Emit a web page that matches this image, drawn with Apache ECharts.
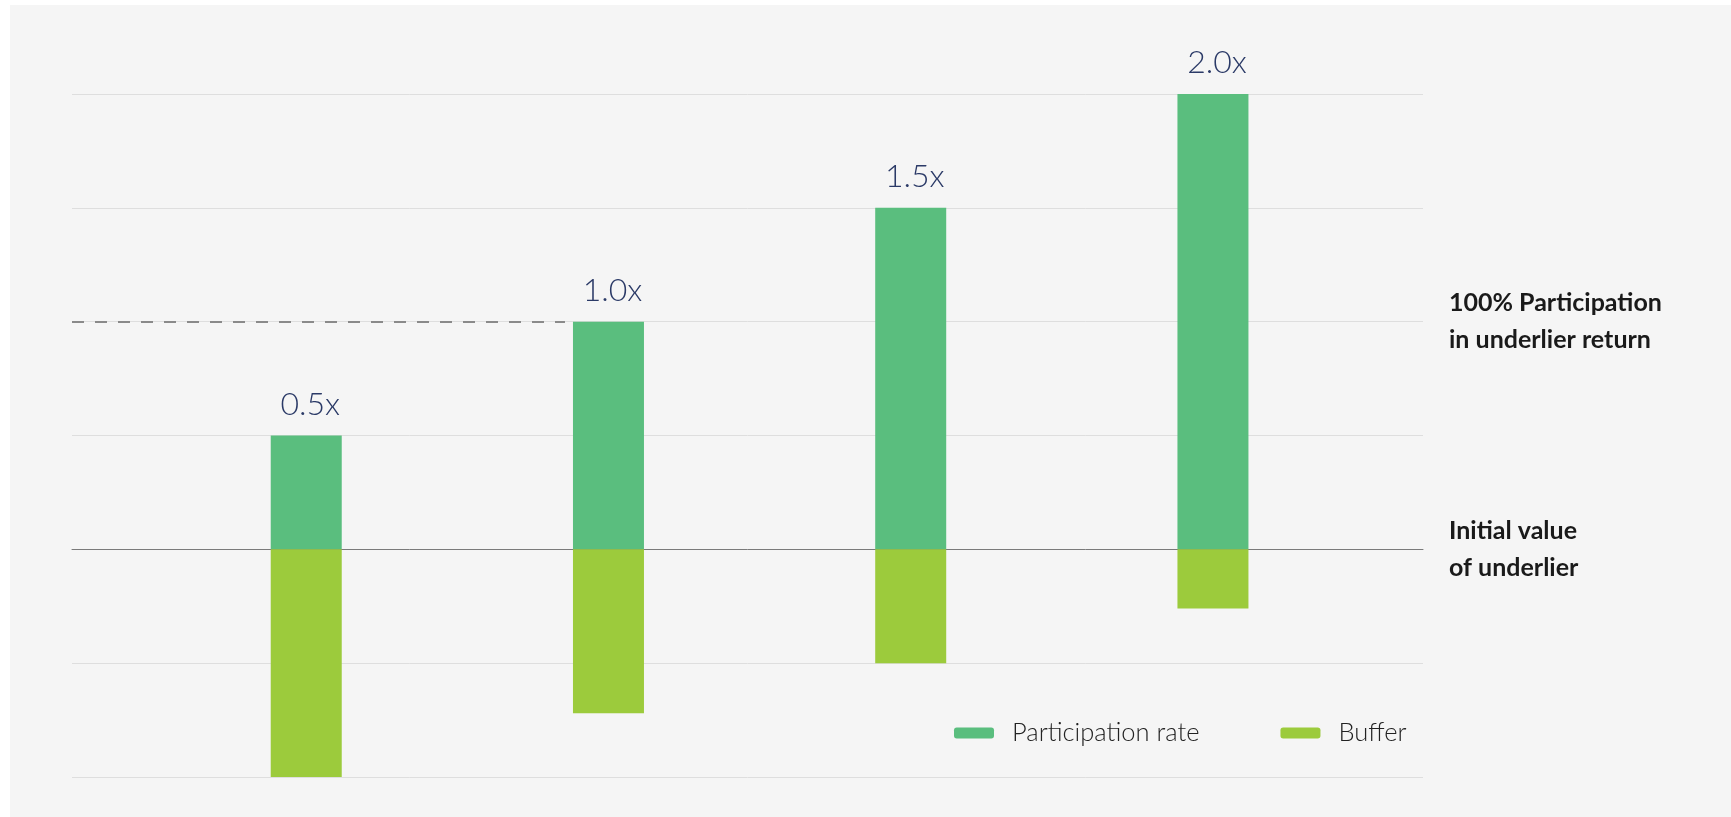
<!DOCTYPE html>
<html>
<head>
<meta charset="utf-8">
<script src="https://cdn.jsdelivr.net/npm/echarts@6/dist/echarts.min.js"></script>
<style>
html,body{margin:0;padding:0;background:#ffffff;}
#chart{width:1731px;height:817px;}
</style>
</head>
<body>
<div id="chart"></div>
<script>
// ---- data ----
const categories = ['0.5x', '1.0x', '1.5x', '2.0x'];
const participation = [50, 100, 150, 200];
const buffer = [-100, -72, -50, -26];
const barLabels = ['0.5x', '1.0x', '1.5x', '2.0x'];
const seriesNames = ['Participation rate', 'Buffer'];
const rightLabels = { '100': '100% Participation\nin underlier return', '0': 'Initial value\nof underlier' };
const referenceLevel = 100;

// ---- layout ----
const X_MIN = -0.775, X_MAX = 3.695;
const BAR_W = 71;
const gridLeft = 72, gridRight = 308, gridTop = 94, gridBottom = 40;
const pxPerUnit = (1731 - gridLeft - gridRight) / (X_MAX - X_MIN);

const chart = echarts.init(document.getElementById('chart'), null, { renderer: 'canvas' });

const partData = participation.map((v, i) => [i, v]);
const bufData = buffer.map((v, i) => [i, v]);
const dashEndX = 1 - (BAR_W / 2 + 8) / pxPerUnit;

const option = {
  animation: false,
  graphic: [{
    type: 'rect', z: -10, silent: true,
    shape: { x: 10, y: 5, width: 1731, height: 817 },
    style: { fill: '#f5f5f5' }
  }],
  grid: { left: gridLeft, right: gridRight, top: gridTop, bottom: gridBottom },
  legend: {
    left: 949, top: 715,
    itemWidth: 40, itemHeight: 11, itemGap: 81,
    icon: 'roundRect',
    textStyle: { fontFamily: 'Lato', fontSize: 25.5, fontWeight: 300, color: '#222222', padding: [0, 0, 0, 13] },
    data: seriesNames
  },
  xAxis: {
    type: 'value', min: X_MIN, max: X_MAX,
    axisLine: { show: true, onZero: true, lineStyle: { color: '#7a7a7a', width: 1 } },
    axisTick: { show: false }, axisLabel: { show: false }, splitLine: { show: false }
  },
  yAxis: [{
    type: 'value', min: -100, max: 200, interval: 50,
    axisLine: { show: false }, axisTick: { show: false }, axisLabel: { show: false },
    splitLine: { lineStyle: { color: '#dedede', width: 1 } }
  }, {
    type: 'value', min: -100, max: 200, interval: 50, position: 'right',
    axisLine: { show: false }, axisTick: { show: false }, splitLine: { show: false },
    axisLabel: {
      show: true, margin: 26, align: 'left',
      fontFamily: 'Lato', fontSize: 25, fontWeight: 'bold', color: '#1a1a1a', lineHeight: 37,
      padding: [11, 0, 0, 0],
      formatter: v => rightLabels[String(v)] || ''
    }
  }],
  series: [{
    name: seriesNames[0], type: 'bar', stack: 'a', barWidth: BAR_W,
    data: partData,
    itemStyle: { color: '#5abe7e' },
    label: {
      show: true, position: 'top', distance: 15, offset: [4, 0],
      fontFamily: 'Lato', fontSize: 32, fontWeight: 300, color: '#2b3a67',
      formatter: p => barLabels[p.dataIndex]
    },
    markLine: {
      silent: true, symbol: 'none',
      lineStyle: { color: '#8a8a8a', type: [12, 11], width: 2 },
      label: { show: false },
      data: [[{ coord: [X_MIN, referenceLevel] }, { coord: [dashEndX, referenceLevel] }]]
    }
  }, {
    name: seriesNames[1], type: 'bar', stack: 'a', barWidth: BAR_W,
    data: bufData,
    itemStyle: { color: '#9ccb3c' }
  }]
};
chart.setOption(option);
</script>
</body>
</html>
